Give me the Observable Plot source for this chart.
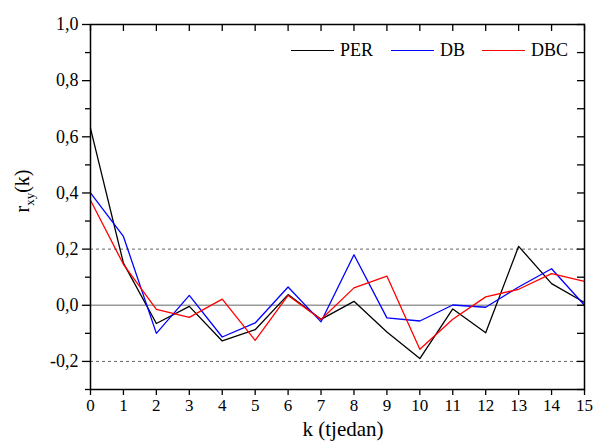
<!DOCTYPE html>
<html><head><meta charset="utf-8">
<script src="https://cdn.jsdelivr.net/npm/d3@7"></script>
<script src="https://cdn.jsdelivr.net/npm/@observablehq/plot@0.6"></script>
<style>
body{margin:0;background:#fff}
#wrap{position:relative;width:593px;height:444px;font-family:"Liberation Serif","Times New Roman",serif}
#wrap svg, #wrap svg text{font-family:"Liberation Serif","Times New Roman",serif !important}
.lg{position:absolute;top:40px;display:flex;align-items:center;font-size:18px;color:#000;white-space:nowrap}
.lg span.sw{display:inline-block;width:43px;height:1.5px;margin-right:6px}
</style></head><body><div id="wrap"></div>
<script>
const lags = [0,1,2,3,4,5,6,7,8,9,10,11,12,13,14,15];
const per = [0.63,0.15,-0.065,-0.004,-0.127,-0.087,0.038,-0.05,0.014,-0.095,-0.19,-0.013,-0.098,0.21,0.077,0.01];
const db  = [0.40,0.245,-0.10,0.035,-0.113,-0.063,0.065,-0.059,0.18,-0.045,-0.056,0.001,-0.007,0.065,0.13,0.0];
const dbc = [0.374,0.146,-0.015,-0.043,0.022,-0.125,0.035,-0.051,0.062,0.104,-0.157,-0.05,0.03,0.057,0.113,0.085];
const seriesNames = ["PER","DB","DBC"];
const seriesColors = ["#000000","#0000ff","#ff0000"];
const yMajorTicks = [-0.2,0,0.2,0.4,0.6,0.8,1.0];
const yMinorTicks = [-0.3,-0.1,0.1,0.3,0.5,0.7,0.9];
const dashedRefs = [-0.2,0.2];
const zeroRef = [0];

const seriesValues = [per, db, dbc];
const rows = seriesNames.flatMap((s,i) => lags.map((k,j) => ({series:s, k, v:seriesValues[i][j]})));
const fmt = d => d.toFixed(1).replace(".", ",");
const serif = '"Liberation Serif","Times New Roman",serif';

const chart = Plot.plot({
  width:593, height:444,
  marginLeft:90, marginRight:9, marginTop:24, marginBottom:55,
  x:{domain:[0,15]},
  y:{domain:[-0.3,1.0]},
  color:{domain:seriesNames, range:seriesColors},
  style:{fontFamily:serif, fontSize:"18px", color:"#000", background:"#fff"},
  marks:[
    Plot.ruleY(dashedRefs,{stroke:"#666", strokeDasharray:"3,3", strokeWidth:1}),
    Plot.ruleY(zeroRef,{stroke:"#999", strokeWidth:1.5}),
    Plot.line(rows,{x:"k", y:"v", stroke:"series", strokeWidth:1.3}),
    Plot.frame({stroke:"#000", strokeWidth:1.5}),
    Plot.axisX({ticks:lags, tickSize:6, tickPadding:3, tickFormat:d => String(d), label:null, strokeWidth:1.3, fontSize:17}),
    Plot.axisX({anchor:"top", ticks:lags, tickSize:6, dy:6, tickFormat:() => "", label:null, strokeWidth:1.3}),
    Plot.axisY({ticks:yMajorTicks, tickSize:8, tickPadding:4, tickFormat:fmt, label:null, strokeWidth:1.3}),
    Plot.axisY({ticks:yMinorTicks, tickSize:5, tickFormat:() => "", label:null, strokeWidth:1.3}),
    Plot.axisY({anchor:"right", ticks:[...yMajorTicks, ...yMinorTicks], tickSize:8, dx:-8, tickFormat:() => "", label:null, strokeWidth:1.3})
  ]
});
const wrap = document.getElementById("wrap");
wrap.appendChild(chart);

const svg = d3.select(chart);
svg.append("text")
  .attr("x", 343).attr("y", 436)
  .attr("text-anchor","middle")
  .style("font-size","21px")
  .attr("fill","#000")
  .text("k (tjedan)");
const yl = svg.append("text")
  .attr("transform","translate(29,191) rotate(-90)")
  .attr("text-anchor","middle")
  .style("font-size","20px")
  .attr("fill","#000");
yl.append("tspan").text("r");
yl.append("tspan").attr("dy",5).style("font-size","13px").text("xy");
yl.append("tspan").attr("dy",-5).text("(k)");

const lgLeft = [291, 391, 482];
seriesNames.forEach((s,i) => {
  const d = document.createElement("div");
  d.className = "lg";
  d.style.left = lgLeft[i] + "px";
  d.innerHTML = `<span class="sw" style="background:${seriesColors[i]}"></span><span>${s}</span>`;
  wrap.appendChild(d);
});
</script>
</body></html>
